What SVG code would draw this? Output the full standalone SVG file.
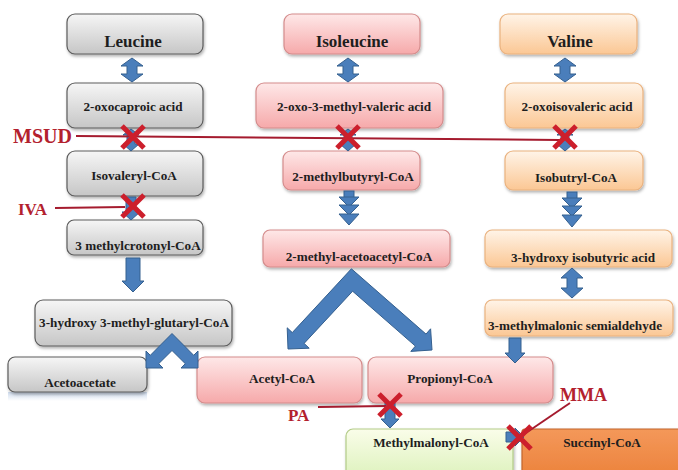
<svg xmlns="http://www.w3.org/2000/svg" width="678" height="470" viewBox="0 0 678 470">
<defs>
<linearGradient id="gGray" x1="0" y1="0" x2="0" y2="1"><stop offset="0" stop-color="#f6f6f6"/><stop offset="1" stop-color="#c6c6c6"/></linearGradient>
<linearGradient id="gPink" x1="0" y1="0" x2="0" y2="1"><stop offset="0" stop-color="#fee8e8"/><stop offset="1" stop-color="#f6a9aa"/></linearGradient>
<linearGradient id="gOrange" x1="0" y1="0" x2="0" y2="1"><stop offset="0" stop-color="#fff4e8"/><stop offset="1" stop-color="#fbc794"/></linearGradient>
<linearGradient id="gGreen" x1="0" y1="0" x2="0" y2="1"><stop offset="0" stop-color="#fafde9"/><stop offset="1" stop-color="#d6efb2"/></linearGradient>
<linearGradient id="gSucc" x1="0" y1="0" x2="0" y2="1"><stop offset="0" stop-color="#f4985a"/><stop offset="1" stop-color="#ea7d34"/></linearGradient>
<linearGradient id="gRefl" x1="0" y1="0" x2="0" y2="1"><stop offset="0" stop-color="#cfdcee"/><stop offset="1" stop-color="#ffffff"/></linearGradient>
<filter id="sh" x="-10%" y="-20%" width="125%" height="150%"><feDropShadow dx="1" dy="2" stdDeviation="1.5" flood-color="#000" flood-opacity="0.3"/></filter>
</defs>
<style>
.box{filter:url(#sh);stroke-width:1.2}
.gray{fill:url(#gGray);stroke:#5c5c5c}
.pink{fill:url(#gPink);stroke:#d48c8c}
.orange{fill:url(#gOrange);stroke:#eab27f}
.green{fill:url(#gGreen);stroke:#b3cc88}
.succ{fill:url(#gSucc);stroke:#c2652b}
text{font-family:"Liberation Serif","Times New Roman",serif;font-weight:bold;fill:#1e1e1e;text-anchor:middle}
.t{font-size:13.2px}
.big{font-size:17px}
.lbl{fill:#b3212e;text-anchor:start}
.arr{fill:#4a7ebb;stroke:#35608f;stroke-width:1;stroke-linejoin:miter}
.inh{stroke:#a51b2e;stroke-width:2;fill:none}
.x{stroke:#cc1f2c;stroke-width:5;fill:none}
</style>
<rect width="678" height="470" fill="#ffffff"/>

<g id="nodes">
<g id="leucine"><rect class="box gray" x="67" y="14" width="136" height="40" rx="8"/><text class="big" x="133" y="47">Leucine</text></g>
<g id="isoleucine"><rect class="box pink" x="284" y="14" width="136" height="40" rx="8"/><text class="big" x="352" y="47">Isoleucine</text></g>
<g id="valine"><rect class="box orange" x="500" y="14" width="137" height="40" rx="8"/><text class="big" x="570" y="47">Valine</text></g>

<g id="oxocaproic"><rect class="box gray" x="67" y="83" width="136" height="45" rx="8"/><text class="t" x="133" y="111">2-oxocaproic acid</text></g>
<g id="oxomethylvaleric"><rect class="box pink" x="256" y="83" width="187" height="45" rx="8"/><text class="t" x="354" y="111">2-oxo-3-methyl-valeric acid</text></g>
<g id="oxoisovaleric"><rect class="box orange" x="505" y="83" width="138" height="45" rx="8"/><text class="t" x="577" y="111">2-oxoisovaleric acid</text></g>

<g id="isovalerylcoa"><rect class="box gray" x="67" y="151" width="136" height="45" rx="8"/><text class="t" x="134" y="180">Isovaleryl-CoA</text></g>
<g id="methylbutyrylcoa"><rect class="box pink" x="283" y="151" width="137" height="39" rx="8"/><text class="t" x="353" y="181">2-methylbutyryl-CoA</text></g>
<g id="isobutrylcoa"><rect class="box orange" x="505" y="151" width="138" height="39" rx="8"/><text class="t" x="576" y="182">Isobutryl-CoA</text></g>

<g id="methylcrotonylcoa"><rect class="box gray" x="67" y="220" width="136" height="35" rx="7"/><text class="t" x="138" y="250">3 methylcrotonyl-CoA</text></g>
<g id="methylacetoacetylcoa"><rect class="box pink" x="263" y="230" width="187" height="37" rx="7"/><text class="t" x="359" y="261">2-methyl-acetoacetyl-CoA</text></g>
<g id="hydroxyisobutyric"><rect class="box orange" x="485" y="230" width="187" height="37" rx="7"/><text class="t" x="583" y="262">3-hydroxy isobutyric acid</text></g>

<g id="hmgcoa"><rect class="box gray" x="35" y="300" width="197" height="46" rx="8"/><text class="t" x="134" y="327">3-hydroxy 3-methyl-glutaryl-CoA</text></g>
<g id="semialdehyde"><rect class="box orange" x="485" y="300" width="188" height="36" rx="7"/><text class="t" x="575" y="330">3-methylmalonic semialdehyde</text></g>

<g id="acetoacetate"><rect x="8" y="392" width="139" height="9" fill="url(#gRefl)"/><rect class="box gray" x="8" y="357" width="139" height="35" rx="7"/><text class="t" x="80" y="387">Acetoacetate</text></g>
<g id="acetylcoa"><rect class="box pink" x="197" y="357" width="165" height="46" rx="8"/><text class="t" x="282" y="383">Acetyl-CoA</text></g>
<g id="propionylcoa"><rect class="box pink" x="368" y="357" width="185" height="46" rx="8"/><text class="t" x="450" y="383">Propionyl-CoA</text></g>

<g id="methylmalonylcoa"><rect class="box green" x="346" y="429" width="167" height="60" rx="7"/><text class="t" x="431" y="447">Methylmalonyl-CoA</text></g>
<g id="succinylcoa"><rect class="box succ" x="522" y="429" width="170" height="60" rx="3"/><text class="t" x="602" y="447">Succinyl-CoA</text></g>
</g>

<g id="connectors">
<polygon class="arr" points="132,58 143,66 137,66 137,74 143,74 132,82 121,74 127,74 127,66 121,66"/>
<polygon class="arr" points="348,58 359,66 353,66 353,74 359,74 348,82 337,74 343,74 343,66 337,66"/>
<polygon class="arr" points="565,58 576,66 570,66 570,74 576,74 565,82 554,74 560,74 560,66 554,66"/>
<polygon class="arr" points="131,129 139,135 135,135 135,144 139,144 131,151 123,144 127,144 127,135 123,135"/>
<polygon class="arr" points="348,129 356,135 352,135 352,144 356,144 348,151 340,144 344,144 344,135 340,135"/>
<polygon class="arr" points="565,129 573,135 569,135 569,144 573,144 565,151 557,144 561,144 561,135 557,135"/>
<polygon class="arr" points="126,197 136,197 136,212 140,212 131,220 122,212 126,212"/>
<g>
<rect class="arr" x="344" y="191" width="10" height="8"/>
<polygon class="arr" points="339,197 359,197 349,207"/>
<polygon class="arr" points="339,205 359,205 349,215"/>
<polygon class="arr" points="339,214 359,214 349,225"/>
</g>
<g>
<rect class="arr" x="567" y="192" width="10" height="8"/>
<polygon class="arr" points="562,198 582,198 572,208"/>
<polygon class="arr" points="562,206 582,206 572,216"/>
<polygon class="arr" points="562,215 582,215 572,227"/>
</g>
<polygon class="arr" points="572,268 583,278 577,278 577,288 583,288 572,298 561,288 567,288 567,278 561,278"/>
<polygon class="arr" points="126,258 140,258 140,281 144,281 133,292 122,281 126,281"/>
<polygon class="arr" points="509,338 521,338 521,353 525,353 515,363 505,353 509,353"/>
<polygon class="arr" points="351.4,268.8 426,334.1 430.6,328.8 432,350 410.8,351.4 415.4,346.1 352.6,291.2 304.1,343.4 309.2,348.2 288,349 287.2,327.8 292.3,332.6"/>
<polygon class="arr" points="172,333.5 193.7,355.3 198,351 198,368 181,368 185.3,363.7 172,350.5 158.7,363.7 163,368 146,368 146,351 150.3,355.3"/>
<polygon class="arr" points="385,403 395,403 395,419 399,419 390,428 381,419 385,419"/>
<polygon class="arr" points="506,432 515,432 515,428 524,437 515,446 515,442 506,442"/>
</g>

<g id="inhibitions">
<text class="big lbl" x="13" y="143" style="font-size:20px">MSUD</text>
<line class="inh" x1="76" y1="136" x2="560" y2="140"/>
<text class="big lbl" x="18" y="215">IVA</text>
<line class="inh" x1="55" y1="208" x2="125" y2="207"/>
<text class="big lbl" x="288" y="421">PA</text>
<line class="inh" x1="318" y1="407" x2="386" y2="406"/>
<text class="big lbl" x="560" y="401" style="font-size:18px">MMA</text>
<line class="inh" x1="570" y1="403" x2="520" y2="437"/>
<path class="x" d="M122,126 L144,148 M144,126 L122,148"/>
<path class="x" d="M337,126 L359,148 M359,126 L337,148"/>
<path class="x" d="M554,126 L576,148 M576,126 L554,148"/>
<path class="x" d="M122,195 L144,217 M144,195 L122,217"/>
<path class="x" d="M379,394 L401,416 M401,394 L379,416"/>
<path class="x" d="M508,426 L531,449 M531,426 L508,449"/>
</g>
</svg>
